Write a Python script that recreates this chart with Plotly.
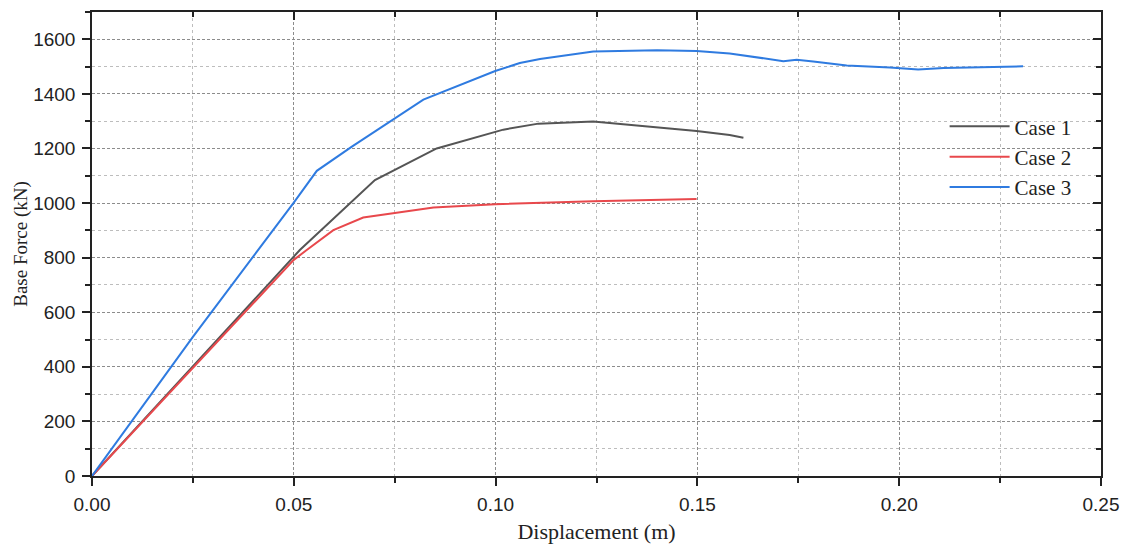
import plotly.graph_objects as go

# Pushover curves: displacement (m) vs base force (kN)
case1_disp = [0.0, 0.025, 0.05, 0.0515, 0.0701, 0.0854, 0.1019, 0.1106, 0.1242, 0.1366, 0.1498, 0.158, 0.1614]
case1_force = [0, 400, 800, 828, 1084, 1200, 1269, 1291, 1299, 1282, 1264, 1249, 1239]

case2_disp = [0.0, 0.025, 0.05, 0.0532, 0.0598, 0.0672, 0.0846, 0.0999, 0.1242, 0.1498]
case2_force = [0, 398, 792, 828, 901, 947, 984, 996, 1007, 1015]

case3_disp = [0.0, 0.025, 0.0499, 0.0557, 0.0643, 0.0821, 0.0999, 0.106, 0.111, 0.1242,
              0.140, 0.1498, 0.158, 0.1713, 0.1746, 0.1787, 0.187, 0.1977, 0.2047, 0.211, 0.2307]
case3_force = [0, 510, 1000, 1118, 1206, 1379, 1484, 1513, 1528, 1555,
               1560, 1557, 1548, 1520, 1525, 1519, 1504, 1497, 1489, 1495, 1501]

series = [
    ("Case 1", case1_disp, case1_force, "#555555"),
    ("Case 2", case2_disp, case2_force, "#e8484c"),
    ("Case 3", case3_disp, case3_force, "#2f7be0"),
]

x_range = [0, 0.25]
y_range = [0, 1700]

fig = go.Figure()
for name, xs, ys, color in series:
    fig.add_trace(go.Scatter(x=xs, y=ys, mode="lines", name=name,
                             line=dict(color=color, width=2)))

# empty trace so the mirrored top/right frame axes are drawn
fig.add_trace(go.Scatter(x=[], y=[], xaxis="x2", yaxis="y2",
                         showlegend=False, hoverinfo="skip"))

tick_font = dict(family="Liberation Sans, Arial, sans-serif", size=19, color="#222222")
title_font_family = "Liberation Serif, Times New Roman, serif"

common = dict(showline=True, linecolor="#222222", linewidth=1.5, zeroline=False,
              ticklen=8, tickwidth=1.5, tickcolor="#222222", automargin=False)

fig.update_layout(
    width=1128, height=544,
    margin=dict(l=92, r=27, t=12, b=68),
    paper_bgcolor="white", plot_bgcolor="white",
    xaxis=dict(range=x_range, dtick=0.05, tickformat=".2f", ticks="outside",
               tickfont=tick_font, ticklabelstandoff=2,
               title=dict(text="Displacement (m)", standoff=12,
                          font=dict(family=title_font_family, size=22, color="#222222")),
               showgrid=True, gridcolor="#8c8c8c", gridwidth=1, griddash="3px,2px",
               minor=dict(dtick=0.025, ticks="outside", ticklen=5, tickcolor="#222222",
                          showgrid=True, gridcolor="#bdbdbd", griddash="dot", gridwidth=1),
               **common),
    yaxis=dict(range=y_range, dtick=200, ticks="outside", tickfont=tick_font,
               ticklabelstandoff=3,
               title=dict(text="Base Force (kN)", standoff=1,
                          font=dict(family=title_font_family, size=19, color="#222222")),
               showgrid=True, gridcolor="#8c8c8c", gridwidth=1, griddash="3px,2px",
               minor=dict(dtick=100, ticks="outside", ticklen=5, tickcolor="#222222",
                          showgrid=True, gridcolor="#bdbdbd", griddash="dot", gridwidth=1),
               **common),
    xaxis2=dict(overlaying="x", side="top", range=x_range, dtick=0.05, ticks="inside",
                showticklabels=False, showgrid=False,
                minor=dict(dtick=0.025, ticks="inside", ticklen=5, tickcolor="#222222"),
                **common),
    yaxis2=dict(overlaying="y", side="right", range=y_range, dtick=200, ticks="inside",
                showticklabels=False, showgrid=False,
                minor=dict(dtick=100, ticks="inside", ticklen=5, tickcolor="#222222"),
                **common),
    legend=dict(x=0.845, y=0.797, xanchor="left", yanchor="top",
                bgcolor="rgba(0,0,0,0)", borderwidth=0, itemwidth=60,
                font=dict(family=title_font_family, size=21, color="#222222"),
                tracegroupgap=0),
    showlegend=True,
)

fig.write_html("out.html")
